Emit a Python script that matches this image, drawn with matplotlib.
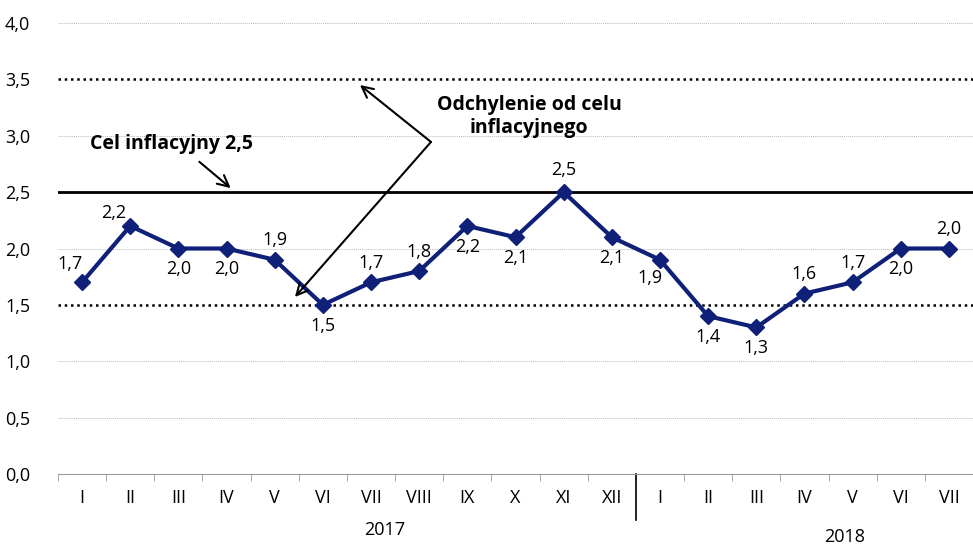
import matplotlib.pyplot as plt

plt.rcParams['font.family'] = ['Open Sans', 'DejaVu Sans']

# Data
months = ['I', 'II', 'III', 'IV', 'V', 'VI', 'VII', 'VIII', 'IX', 'X', 'XI', 'XII',
          'I', 'II', 'III', 'IV', 'V', 'VI', 'VII']
inflation = [1.7, 2.2, 2.0, 2.0, 1.9, 1.5, 1.7, 1.8, 2.2, 2.1, 2.5, 2.1,
             1.9, 1.4, 1.3, 1.6, 1.7, 2.0, 2.0]
# label placement per point: (dx points, dy points)
label_offsets = [(-9, 13), (-12, 9), (0, -15), (0, -15), (0, 14), (0, -15), (0, 14),
                 (0, 14), (0, -15), (0, -15), (0, 16), (0, -15), (-7, -13), (0, -15),
                 (0, -15), (0, 14), (0, 14), (0, -15), (0, 14)]
target = 2.5
band_low, band_high = 1.5, 3.5
years = ['2017', '2018']

fig = plt.figure(figsize=(9.73, 5.45), dpi=100)
ax = fig.add_axes([58 / 973, 71 / 545, 915 / 973, 451 / 545])

x = list(range(len(months)))

# grid
for g in [0.5, 1.0, 2.0, 3.0, 4.0]:
    ax.axhline(g, color='#bbbbbb', lw=0.7, ls=(0, (1, 1)), zorder=0)
ax.axhline(target, color='black', lw=2, zorder=1)
ax.axhline(band_low, color='black', lw=1.8, ls=(0, (1, 1.5)), zorder=1)
ax.axhline(band_high, color='black', lw=1.8, ls=(0, (1, 1.5)), zorder=1)

ax.plot(x, inflation, color='#0f2078', lw=3, marker='D', markersize=8, zorder=3)

for xi, v, (dx, dy) in zip(x, inflation, label_offsets):
    ax.annotate(f'{v:.1f}'.replace('.', ','), (xi, v), xytext=(dx, dy),
                textcoords='offset points', ha='center', va='center', fontsize=13)

ax.set_xlim(-0.5, len(months) - 0.5)
ax.set_ylim(0, 4)
ax.set_yticks([0, 0.5, 1, 1.5, 2, 2.5, 3, 3.5, 4])
ax.set_yticklabels([f'{t:.1f}'.replace('.', ',') for t in ax.get_yticks()], fontsize=13)
ax.set_xticks(x)
ax.set_xticklabels(months, fontsize=13)
ax.set_xticks([i - 0.5 for i in range(len(months) + 1)], minor=True)
ax.tick_params(axis='x', which='major', length=0, pad=11)
ax.tick_params(axis='x', which='minor', length=5, color='#999999')
ax.tick_params(axis='y', length=0, pad=20)
for s in ['top', 'right', 'left']:
    ax.spines[s].set_visible(False)
ax.spines['bottom'].set_color('#999999')

# year separator and labels
ax.plot([11.5, 11.5], [0, -0.102], transform=ax.get_xaxis_transform(),
        color='black', lw=1.2, clip_on=False)
ax.text(6.29, -0.125, years[0], transform=ax.get_xaxis_transform(),
        ha='center', va='center', fontsize=13)
ax.text(15.84, -0.14, years[1], transform=ax.get_xaxis_transform(),
        ha='center', va='center', fontsize=13)

# annotations
ax.text(0.16, 2.93, 'Cel inflacyjny 2,5', fontsize=14, fontweight='bold',
        ha='left', va='center')
ax.annotate('', xy=(3.13, 2.52), xytext=(2.39, 2.785),
            arrowprops=dict(arrowstyle='->', lw=1.5, color='black',
                            mutation_scale=20))
ax.text(9.28, 3.17, 'Odchylenie od celu\ninflacyjnego', fontsize=14,
        fontweight='bold', ha='center', va='center', linespacing=1.2)
ax.annotate('', xy=(5.77, 3.45), xytext=(7.245, 2.945),
            arrowprops=dict(arrowstyle='->', lw=1.5, color='black',
                            mutation_scale=20, shrinkA=0, shrinkB=0))
ax.annotate('', xy=(4.42, 1.57), xytext=(7.245, 2.945),
            arrowprops=dict(arrowstyle='->', lw=1.5, color='black',
                            mutation_scale=20, shrinkA=0, shrinkB=0))

fig.savefig('out.png', dpi=100)
